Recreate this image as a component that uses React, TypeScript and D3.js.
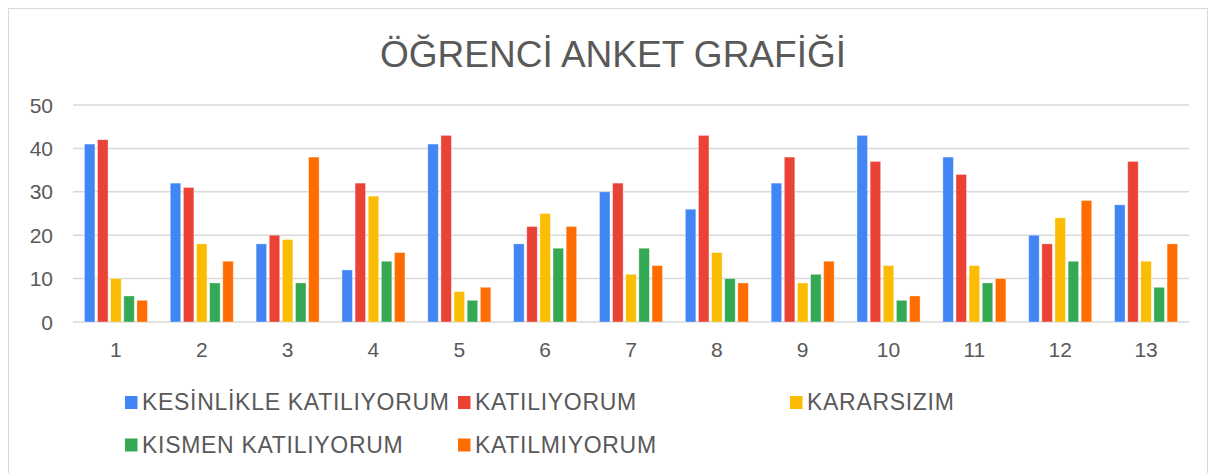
import React, { useEffect, useRef } from 'react';
import * as d3 from 'd3';

const categories = ['1', '2', '3', '4', '5', '6', '7', '8', '9', '10', '11', '12', '13'];
const seriesNames = ['KESİNLİKLE KATILIYORUM', 'KATILIYORUM', 'KARARSIZIM', 'KISMEN KATILIYORUM', 'KATILMIYORUM'];
const seriesColors = ['#4285F4', '#EA4335', '#FBBC04', '#34A853', '#FF6D01'];
const kesinlikle = [41, 32, 18, 12, 41, 18, 30, 26, 32, 43, 38, 20, 27];
const katiliyorum = [42, 31, 20, 32, 43, 22, 32, 43, 38, 37, 34, 18, 37];
const kararsizim = [10, 18, 19, 29, 7, 25, 11, 16, 9, 13, 13, 24, 14];
const kismen = [6, 9, 9, 14, 5, 17, 17, 10, 11, 5, 9, 14, 8];
const katilmiyorum = [5, 14, 38, 16, 8, 22, 13, 9, 14, 6, 10, 28, 18];
const yTicks = [0, 10, 20, 30, 40, 50];

const series = [kesinlikle, katiliyorum, kararsizim, kismen, katilmiyorum];

const FONT = '"Liberation Sans", Arial, sans-serif';
const TEXT = '#595959';

function App() {
  const ref = useRef<SVGSVGElement>(null);

  useEffect(() => {
    const svg = d3.select(ref.current);
    svg.selectAll('*').remove();

    const left = 73, right = 1189, top = 105, bottom = 322;

    // chart frame
    svg.append('rect')
      .attr('x', 8.5).attr('y', 8.5)
      .attr('width', 1199).attr('height', 475)
      .attr('fill', '#fff').attr('stroke', '#d9d9d9');

    svg.append('text')
      .attr('x', 613).attr('y', 67)
      .attr('text-anchor', 'middle')
      .attr('font-family', FONT).attr('font-size', 37)
      .attr('fill', TEXT)
      .text('ÖĞRENCİ ANKET GRAFİĞİ');

    const x0 = d3.scaleBand().domain(categories).range([left, right]).paddingInner(0.266).paddingOuter(0.133);
    const x1 = d3.scaleBand().domain(seriesNames).range([0, x0.bandwidth()]).paddingInner(0.2);
    const y = d3.scaleLinear().domain([0, 50]).range([bottom, top]);

    svg.append('g').selectAll('line').data(yTicks).enter().append('line')
      .attr('x1', left).attr('x2', right)
      .attr('y1', d => y(d)).attr('y2', d => y(d))
      .attr('stroke', '#d9d9d9').attr('stroke-width', 1.5);

    svg.append('g').selectAll('text').data(yTicks).enter().append('text')
      .attr('x', 53).attr('y', d => y(d) + 7.5)
      .attr('text-anchor', 'end')
      .attr('font-family', FONT).attr('font-size', 21).attr('fill', TEXT)
      .text(d => d);

    svg.append('g').selectAll('text').data(categories).enter().append('text')
      .attr('x', d => (x0(d) as number) + x0.bandwidth() / 2)
      .attr('y', 357)
      .attr('text-anchor', 'middle')
      .attr('font-family', FONT).attr('font-size', 21).attr('fill', TEXT)
      .text(d => d);

    const groups = svg.append('g').selectAll('g').data(series).enter().append('g')
      .attr('fill', (d, i) => seriesColors[i]);

    groups.each(function (vals, si) {
      d3.select(this).selectAll('rect').data(vals).enter().append('rect')
        .attr('x', (d, ci) => (x0(categories[ci]) as number) + (x1(seriesNames[si]) as number))
        .attr('y', d => y(d))
        .attr('width', x1.bandwidth())
        .attr('height', d => bottom - y(d))
        .attr('stroke', '#ffffff').attr('stroke-opacity', 0.45).attr('stroke-width', 0.8);
    });

    // legend, three columns
    const legendPos = [[125, 402.5], [458, 402.5], [790, 402.5], [125, 445], [458, 445]];
    const legend = svg.append('g').selectAll('g').data(seriesNames).enter().append('g')
      .attr('transform', (d, i) => `translate(${legendPos[i][0]},${legendPos[i][1]})`);
    legend.append('rect')
      .attr('x', 0).attr('y', -6.5).attr('width', 12.5).attr('height', 13)
      .attr('fill', (d, i) => seriesColors[i]);
    legend.append('text')
      .attr('x', 17).attr('y', 7.5)
      .attr('font-family', FONT).attr('font-size', 23).attr('letter-spacing', 0.7).attr('fill', TEXT)
      .text(d => d);
  }, []);

  return <svg ref={ref} width={1216} height={473} style={{ position: 'absolute', left: 0, top: 0 }} />;
}

export default App;
